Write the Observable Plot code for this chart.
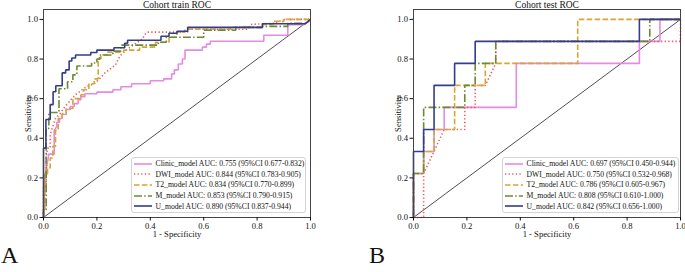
<!DOCTYPE html>
<html><head><meta charset="utf-8">
<script src="https://cdn.jsdelivr.net/npm/d3@7"></script>
<script src="https://cdn.jsdelivr.net/npm/@observablehq/plot@0.6"></script>
<style>
body{margin:0;background:#fff;}
#wrap{position:relative;width:685px;height:272px;overflow:hidden;font-family:"Liberation Serif","DejaVu Serif",serif;color:#111;}
.panel{position:absolute;top:0;}
.legend{position:absolute;top:156.5px;height:56px;box-sizing:border-box;border:1px solid #d4d4d4;border-radius:3px;background:rgba(255,255,255,0.9);padding-top:1px;font-size:7.7px;}
.row{height:10.6px;display:flex;align-items:center;white-space:nowrap;}
.row svg{margin-left:2px;margin-right:3.5px;flex:none;}
.lab{position:absolute;font-size:24px;top:243px;line-height:1;}
</style></head>
<body><div id="wrap"></div>
<script>
// ---------- data ----------
const models = ["Clinic_model", "DWI_model", "T2_model", "M_model", "U_model"];
const colors = ["#e58be3", "#f05a5a", "#d6a532", "#6b8a35", "#343d8c"];
const dashes = [null, "1.3,2.3", "5.5,2.4", "8,2.2,1.5,2.2", null];
const trainAUC = ["0.755", "0.844", "0.834", "0.853", "0.890"];
const trainCI = ["0.677-0.832", "0.783-0.905", "0.770-0.899", "0.790-0.915", "0.837-0.944"];
const testAUC = ["0.697", "0.750", "0.786", "0.808", "0.842"];
const testCI = ["0.450-0.944", "0.532-0.968", "0.605-0.967", "0.610-1.000", "0.656-1.000"];
const axisTicks = [0, 0.2, 0.4, 0.6, 0.8, 1.0];
const chance = [[0, 0], [1, 1]];

// train cohort ROC vertices [fpr, tpr]
const trainClinic = [[0,0],[0.005,0.2],[0.02,0.32],[0.04,0.32],[0.04,0.44],[0.05,0.46],[0.05,0.48],[0.06,0.48],[0.06,0.5],[0.07,0.5],[0.07,0.52],[0.085,0.52],[0.085,0.545],[0.1,0.545],[0.1,0.56],[0.115,0.56],[0.115,0.575],[0.13,0.575],[0.13,0.595],[0.14,0.595],[0.14,0.61],[0.155,0.61],[0.155,0.625],[0.2,0.625],[0.2,0.633],[0.26,0.633],[0.26,0.645],[0.29,0.645],[0.29,0.66],[0.33,0.66],[0.33,0.675],[0.4,0.675],[0.4,0.69],[0.45,0.69],[0.45,0.7],[0.48,0.7],[0.48,0.725],[0.49,0.725],[0.49,0.745],[0.505,0.745],[0.505,0.775],[0.52,0.775],[0.52,0.8],[0.53,0.8],[0.53,0.845],[0.595,0.845],[0.595,0.86],[0.61,0.86],[0.61,0.875],[0.625,0.875],[0.625,0.89],[0.825,0.89],[0.825,0.92],[0.915,0.92],[0.915,0.973],[0.975,0.973],[1,1]];
const trainDWI = [[0,0],[0,0.155],[0.01,0.155],[0.01,0.3],[0.015,0.35],[0.025,0.35],[0.025,0.42],[0.035,0.46],[0.045,0.5],[0.06,0.52],[0.08,0.56],[0.1,0.59],[0.12,0.62],[0.14,0.64],[0.16,0.66],[0.19,0.675],[0.21,0.7],[0.23,0.73],[0.25,0.75],[0.27,0.77],[0.28,0.8],[0.29,0.82],[0.31,0.845],[0.34,0.875],[0.37,0.9],[0.38,0.925],[0.39,0.936],[0.54,0.936],[0.54,0.95],[0.76,0.95],[0.78,0.975],[0.86,0.98],[0.88,0.99],[0.91,1],[1,1]];
const trainT2 = [[0,0],[0,0.04],[0.005,0.04],[0.005,0.22],[0.015,0.22],[0.015,0.25],[0.025,0.25],[0.025,0.3],[0.035,0.3],[0.035,0.36],[0.045,0.36],[0.045,0.44],[0.055,0.44],[0.055,0.5],[0.07,0.5],[0.07,0.525],[0.085,0.525],[0.085,0.55],[0.11,0.55],[0.11,0.6],[0.14,0.6],[0.14,0.62],[0.15,0.62],[0.15,0.645],[0.17,0.645],[0.17,0.675],[0.19,0.675],[0.19,0.7],[0.205,0.7],[0.205,0.8],[0.215,0.8],[0.215,0.82],[0.24,0.82],[0.24,0.835],[0.3,0.835],[0.3,0.845],[0.36,0.845],[0.36,0.86],[0.42,0.86],[0.42,0.885],[0.47,0.885],[0.47,0.91],[0.5,0.91],[0.5,0.935],[0.53,0.935],[0.53,0.95],[0.7,0.95],[0.7,0.96],[0.82,0.96],[0.82,0.975],[0.86,0.975],[0.86,0.99],[0.9,0.99],[0.9,1],[1,1]];
const trainM = [[0,0],[0,0.04],[0.01,0.04],[0.01,0.45],[0.02,0.45],[0.02,0.53],[0.058,0.53],[0.058,0.65],[0.09,0.65],[0.09,0.685],[0.11,0.685],[0.11,0.72],[0.125,0.72],[0.125,0.765],[0.18,0.765],[0.18,0.78],[0.2,0.78],[0.2,0.8],[0.21,0.8],[0.21,0.82],[0.26,0.82],[0.26,0.84],[0.29,0.84],[0.29,0.87],[0.43,0.87],[0.43,0.885],[0.46,0.885],[0.46,0.91],[0.6,0.91],[0.6,0.945],[0.72,0.945],[0.72,0.96],[0.82,0.96],[0.82,0.965],[0.915,0.965],[0.915,0.98],[0.985,0.98],[1,1]];
const trainU = [[0,0],[0,0.35],[0.009,0.35],[0.009,0.495],[0.025,0.495],[0.025,0.57],[0.036,0.57],[0.036,0.635],[0.046,0.635],[0.046,0.665],[0.07,0.665],[0.07,0.73],[0.083,0.73],[0.083,0.745],[0.096,0.745],[0.096,0.79],[0.106,0.79],[0.106,0.805],[0.12,0.805],[0.12,0.82],[0.177,0.82],[0.177,0.833],[0.2,0.833],[0.2,0.845],[0.264,0.845],[0.264,0.857],[0.304,0.857],[0.304,0.88],[0.315,0.88],[0.315,0.895],[0.44,0.895],[0.44,0.915],[0.47,0.915],[0.47,0.93],[0.5,0.93],[0.5,0.94],[0.54,0.94],[0.54,0.96],[0.82,0.96],[0.82,0.978],[0.98,0.978],[1,1]];

// test cohort ROC vertices [fpr, tpr]
const testClinic = [[0,0],[0,0.222],[0.038,0.222],[0.038,0.333],[0.077,0.333],[0.077,0.444],[0.115,0.444],[0.115,0.556],[0.385,0.556],[0.385,0.778],[0.846,0.778],[0.846,0.889],[0.923,0.889],[0.923,1],[1,1]];
const testDWI = [[0,0],[0.038,0],[0.038,0.222],[0.115,0.444],[0.192,0.444],[0.192,0.556],[0.231,0.556],[0.231,0.667],[0.269,0.667],[0.308,0.778],[0.308,0.889],[1,0.889],[1,1]];
const testT2 = [[0,0],[0,0.222],[0.038,0.222],[0.038,0.333],[0.077,0.333],[0.077,0.444],[0.154,0.444],[0.154,0.667],[0.269,0.667],[0.269,0.778],[0.615,0.778],[0.615,1],[1,1]];
const testM = [[0,0],[0,0.222],[0.038,0.222],[0.038,0.556],[0.192,0.556],[0.192,0.667],[0.231,0.667],[0.231,0.778],[0.308,0.778],[0.308,0.889],[0.885,0.889],[0.885,1],[1,1]];
const testU = [[0,0],[0,0.333],[0.038,0.333],[0.038,0.444],[0.077,0.444],[0.077,0.667],[0.154,0.667],[0.154,0.778],[0.231,0.778],[0.231,0.889],[0.846,0.889],[0.846,1],[1,1]];

// ---------- drawing ----------
const wrap = document.getElementById("wrap");
const fmt = d3.format(".1f");

function panel({title, curves, left, width, marginLeft, marginRight}) {
  const chart = Plot.plot({
    width, height: 245, marginTop: 9, marginBottom: 28, marginLeft, marginRight,
    style: {fontFamily: '"Liberation Serif", "DejaVu Serif", serif', fontSize: "8.6px", color: "#111", background: "transparent"},
    x: {domain: [0, 1]},
    y: {domain: [0, 1.05]},
    marks: [
      Plot.line(chance, {x: d => d[0], y: d => d[1], stroke: "#222", strokeWidth: 0.8}),
      ...curves.map((c, i) => Plot.line(c, {
        x: d => d[0], y: d => d[1], stroke: colors[i], strokeWidth: 1.6,
        strokeDasharray: dashes[i] ?? undefined, strokeLinecap: "butt", strokeLinejoin: "miter"
      })),
      Plot.frame({stroke: "#444", strokeWidth: 1}),
      Plot.axisX({ticks: axisTicks, tickFormat: fmt, tickSize: 3.5, tickPadding: 1.5, label: "1 - Specificity", labelAnchor: "center", labelArrow: "none", labelOffset: 19.5}),
      Plot.axisY({ticks: axisTicks, tickFormat: fmt, tickSize: 3.5, tickPadding: 2, label: "Sensitivity", labelAnchor: "center", labelArrow: "none", labelOffset: 19}),
      Plot.text([title], {frameAnchor: "top", dy: -2, lineAnchor: "bottom", fontSize: 9.5, fill: "#111"})
    ]
  });
  chart.classList.add("panel");
  chart.style.left = left + "px";
  wrap.appendChild(chart);
}

function legend({left, width, auc, ci}) {
  const div = document.createElement("div");
  div.className = "legend";
  div.style.left = left + "px";
  div.style.width = width + "px";
  models.forEach((m, i) => {
    const row = document.createElement("div");
    row.className = "row";
    const dash = dashes[i] ? `stroke-dasharray="${dashes[i]}"` : "";
    row.innerHTML = `<svg width="18.5" height="6"><line x1="0" y1="3" x2="18.5" y2="3" stroke="${colors[i]}" stroke-width="1.6" ${dash}/></svg><span>${m} AUC: ${auc[i]} (95%CI ${ci[i]})</span>`;
    div.appendChild(row);
  });
  wrap.appendChild(div);
}

panel({title: "Cohort train ROC", curves: [trainClinic, trainDWI, trainT2, trainM, trainU], left: 0, width: 340, marginLeft: 43, marginRight: 30});
panel({title: "Cohort test ROC", curves: [testClinic, testDWI, testT2, testM, testU], left: 345, width: 340, marginLeft: 68, marginRight: 5});
legend({left: 130.5, width: 175, auc: trainAUC, ci: trainCI});
legend({left: 501.5, width: 177, auc: testAUC, ci: testCI});

const a = document.createElement("div"); a.className = "lab"; a.style.left = "1px"; a.textContent = "A"; wrap.appendChild(a);
const b = document.createElement("div"); b.className = "lab"; b.style.left = "369px"; b.textContent = "B"; wrap.appendChild(b);
</script>
</body></html>
